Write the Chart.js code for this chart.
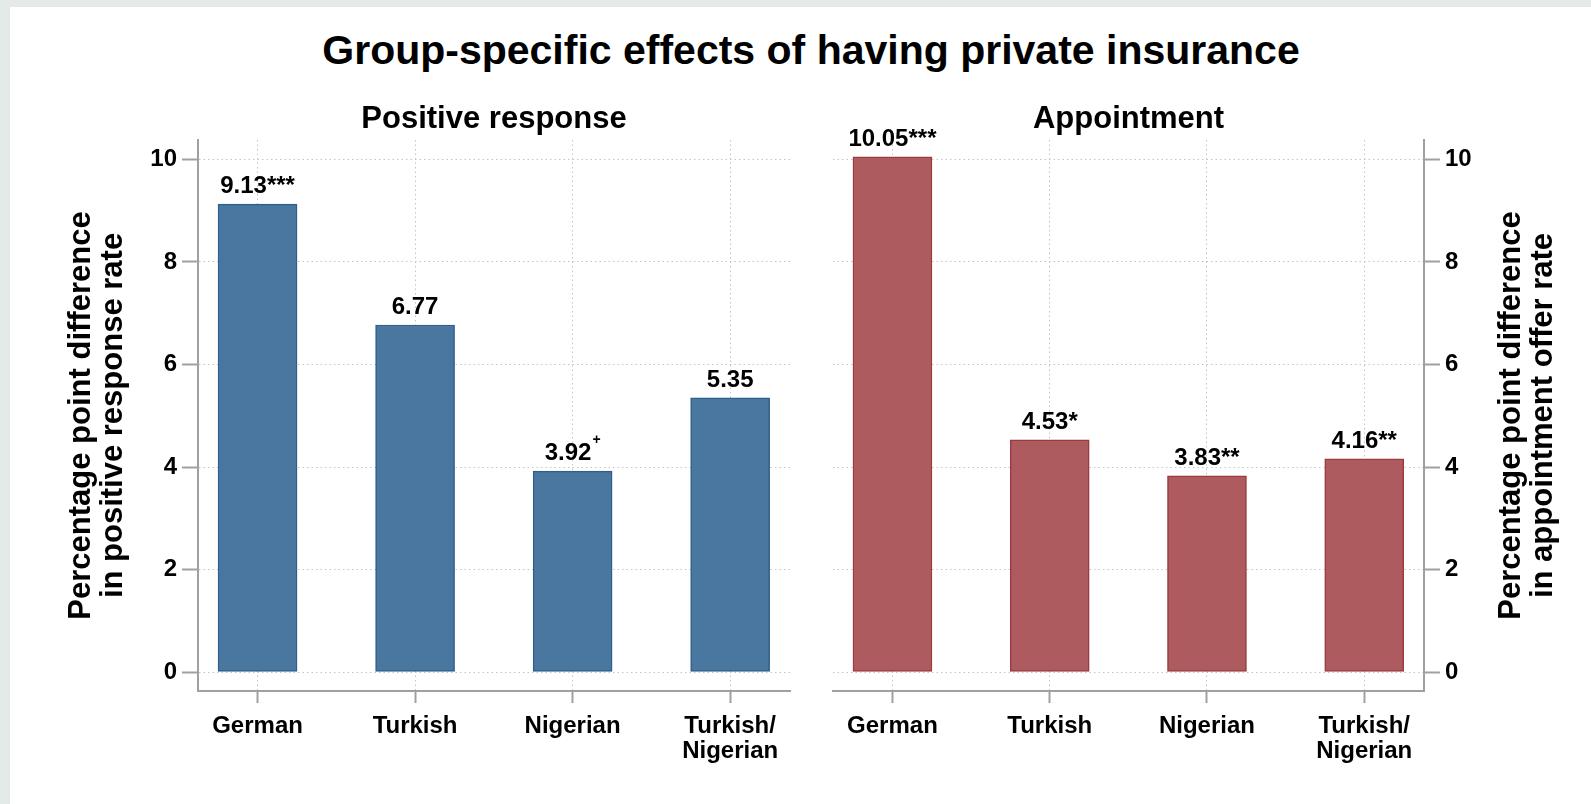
<!DOCTYPE html>
<html>
<head>
<meta charset="utf-8">
<script src="https://cdn.jsdelivr.net/npm/chart.js@4.4.1/dist/chart.umd.min.js"></script>
<style>
  html, body { margin: 0; padding: 0; }
  body {
    width: 1591px; height: 804px; position: relative; overflow: hidden;
    background: #e4eae8;
    font-family: "Liberation Sans", Arial, sans-serif;
  }
  #sheet { position: absolute; left: 10px; top: 7px; right: 0; bottom: 0; background: #fff; }
  #heading {
    position: absolute; left: 0; width: 1622px; top: 30px;
    text-align: center; font-weight: bold; font-size: 41px; line-height: 41px; color: #000;
  }
  canvas { position: absolute; top: 0; }
  #chartResponse { left: 0; }
  #chartAppointment { left: 812px; }
</style>
</head>
<body>
<div id="sheet"></div>
<div id="heading">Group-specific effects of having private insurance</div>
<canvas id="chartResponse" width="812" height="804"></canvas>
<canvas id="chartAppointment" width="779" height="804"></canvas>
<script>
const groups = ['German', 'Turkish', 'Nigerian', ['Turkish/', 'Nigerian']];
const responseValues = [9.13, 6.77, 3.92, 5.35];
const responseStars = ['***', '', '+', ''];
const appointmentValues = [10.05, 4.53, 3.83, 4.16];
const appointmentStars = ['***', '*', '**', '**'];
const yTicks = [0, 2, 4, 6, 8, 10];

const FONT = '"Liberation Sans", Arial, sans-serif';
const AXIS_GREY = '#a0a0a0';
const GRID_GREY = '#c4c4c4';

Chart.defaults.font.family = FONT;
Chart.defaults.font.weight = 'bold';
Chart.defaults.color = '#000';

// value + significance marks above each bar; "+" is set as a superscript
const barLabels = {
  id: 'barLabels',
  afterDatasetsDraw(chart, args, opts) {
    const ctx = chart.ctx;
    const points = chart.data.datasets[0].data;
    ctx.save();
    ctx.fillStyle = '#000';
    ctx.textAlign = 'left';
    ctx.textBaseline = 'alphabetic';
    chart.getDatasetMeta(0).data.forEach((bar, i) => {
      const mark = opts.stars[i];
      const sup = mark === '+';
      const main = points[i].y.toFixed(2) + (sup ? '' : mark);
      ctx.font = 'bold 24px ' + FONT;
      const wMain = ctx.measureText(main).width;
      let wSup = 0;
      if (sup) {
        ctx.font = 'bold 14px ' + FONT;
        wSup = ctx.measureText('+').width + 1;
      }
      const x0 = bar.x - (wMain + wSup) / 2;
      const y = bar.y - 11;
      ctx.font = 'bold 24px ' + FONT;
      ctx.fillText(main, x0, y);
      if (sup) {
        ctx.font = 'bold 14px ' + FONT;
        ctx.fillText('+', x0 + wMain + 1, y - 16);
      }
    });
    ctx.restore();
  }
};

// panel heading over the plot area and the two-line vertical axis title
const panelText = {
  id: 'panelText',
  afterDraw(chart, args, opts) {
    const { ctx, chartArea: a } = chart;
    ctx.save();
    ctx.fillStyle = '#000';
    ctx.textAlign = 'center';
    ctx.textBaseline = 'alphabetic';
    ctx.font = 'bold 31px ' + FONT;
    ctx.fillText(opts.heading, (a.left + a.right) / 2, 128);

    const x = opts.side === 'left' ? a.left - 117 : a.right + 87;
    ctx.translate(x, (a.top + a.bottom) / 2);
    ctx.rotate(-Math.PI / 2);
    ctx.textBaseline = 'middle';
    opts.axisTitle.forEach((line, k) => ctx.fillText(line, 0, k * 32));
    ctx.restore();
  }
};

function panelChart(canvasId, values, stars, heading, axisTitle, side, fill, edge) {
  const padding = side === 'left'
    ? { left: 0, right: 22, top: 140, bottom: 0 }
    : { left: 21, right: 0, top: 140, bottom: 0 };
  const tickFont = { size: 24, weight: 'bold', lineHeight: 1.04 };
  return new Chart(document.getElementById(canvasId), {
    type: 'bar',
    data: {
      datasets: [{
        data: values.map((v, i) => ({ x: i, y: v })),
        backgroundColor: fill,
        borderColor: edge,
        borderWidth: 1.5,
        borderSkipped: false,
        barThickness: 79
      }]
    },
    options: {
      responsive: false,
      animation: false,
      devicePixelRatio: 1,
      layout: { padding },
      plugins: {
        legend: { display: false },
        tooltip: { enabled: false },
        barLabels: { stars },
        panelText: { heading, axisTitle, side }
      },
      scales: {
        x: {
          type: 'linear',
          offset: false,
          min: -0.378,
          max: 3.38,
          afterBuildTicks: s => { s.ticks = groups.map((g, i) => ({ value: i })); },
          afterFit: s => { s.height = 113; },
          ticks: {
            callback: v => groups[v],
            font: tickFont,
            color: '#000',
            padding: 11,
            autoSkip: false,
            maxRotation: 0,
            minRotation: 0
          },
          grid: { offset: false, color: GRID_GREY, lineWidth: 1, tickColor: AXIS_GREY, tickWidth: 2, tickLength: 12 },
          border: { color: AXIS_GREY, width: 2, dash: [1.5, 3] }
        },
        y: {
          position: side,
          min: -0.37,
          max: 10.38,
          afterBuildTicks: s => { s.ticks = yTicks.map(v => ({ value: v })); },
          afterFit: s => { s.width = side === 'left' ? 198 : 167; },
          ticks: { font: tickFont, color: '#000', padding: 5 },
          grid: { color: GRID_GREY, lineWidth: 1, tickColor: AXIS_GREY, tickWidth: 2, tickLength: 16 },
          border: { color: AXIS_GREY, width: 2, dash: [1.5, 3] }
        }
      }
    },
    plugins: [barLabels, panelText]
  });
}

panelChart('chartResponse', responseValues, responseStars, 'Positive response',
  ['Percentage point difference', 'in positive response rate'], 'left', '#4a77a0', '#2f5e8b');

panelChart('chartAppointment', appointmentValues, appointmentStars, 'Appointment',
  ['Percentage point difference', 'in appointment offer rate'], 'right', '#ad5b5f', '#9c3a40');
</script>
</body>
</html>
